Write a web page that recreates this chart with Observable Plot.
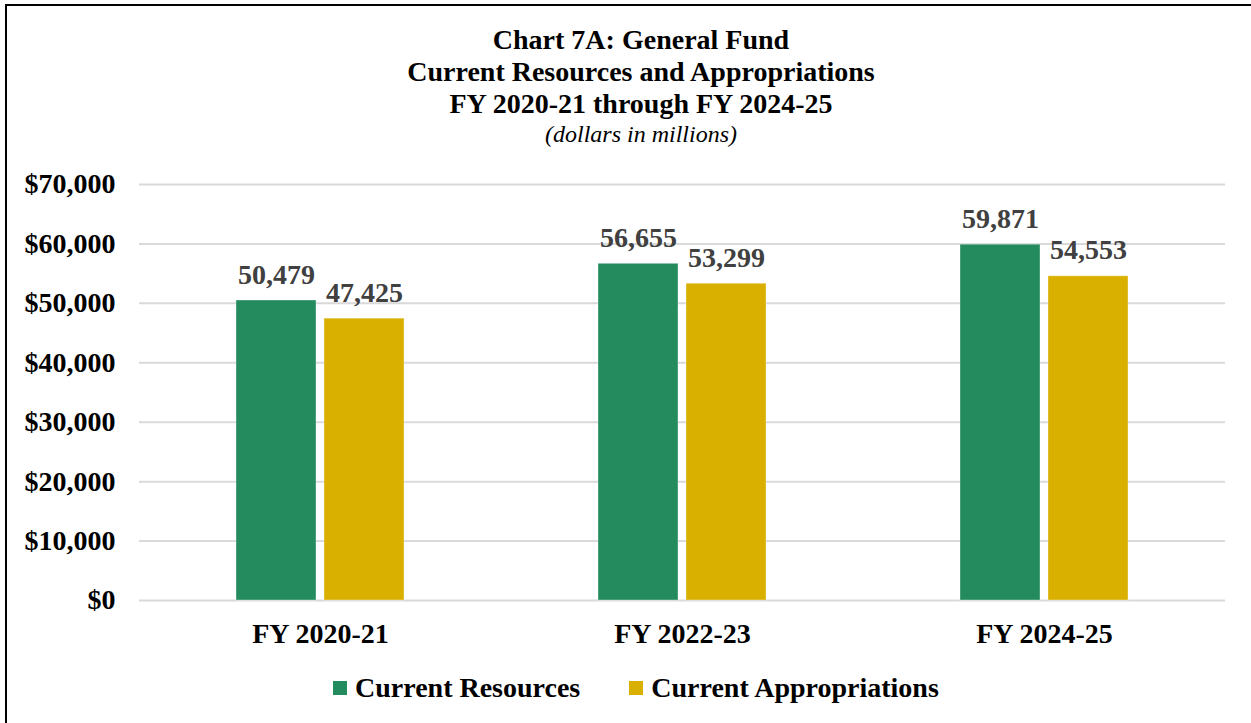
<!DOCTYPE html>
<html>
<head>
<meta charset="utf-8">
<script src="https://cdn.jsdelivr.net/npm/d3@7"></script>
<script src="https://cdn.jsdelivr.net/npm/@observablehq/plot@0.6"></script>
<style>
  html, body { margin: 0; padding: 0; background: #fff; }
  body { width: 1251px; height: 723px; position: relative; overflow: hidden;
         font-family: "Times New Roman", "Liberation Serif", serif; }
  #frame { position: absolute; left: 5px; top: 4px; width: 1300px; height: 800px;
           border-left: 2px solid #000; border-top: 2px solid #000; }
  #title { position: absolute; left: 0; width: 1282px; top: 24px; text-align: center;
           font-weight: bold; font-size: 28px; line-height: 32px; color: #000; white-space: nowrap; }
  #title .sub { font-weight: normal; font-style: italic; font-size: 24px; line-height: 28px; }
  #chart { position: absolute; left: 0; top: 150px; }
  #legend { position: absolute; top: 672px; left: 333px; display: flex; align-items: center;
            font-weight: bold; font-size: 28px; color: #000; white-space: nowrap; }
  #legend .item { display: flex; align-items: center; }
  #legend .sw { width: 14px; height: 14px; margin-right: 8px; }
</style>
</head>
<body>
<div id="frame"></div>
<div id="title">
  <div>Chart 7A: General Fund</div>
  <div>Current Resources and Appropriations</div>
  <div>FY 2020-21 through FY 2024-25</div>
  <div class="sub">(dollars in millions)</div>
</div>
<div id="chart"></div>
<div id="legend"></div>
<script>
const years = ["FY 2020-21", "FY 2022-23", "FY 2024-25"];
const series = ["Current Resources", "Current Appropriations"];
const resources = [50479, 56655, 59871];
const appropriations = [47425, 53299, 54553];
const yTicks = [0, 10000, 20000, 30000, 40000, 50000, 60000, 70000];
const colors = ["#238B5E", "#DAB000"];

const data = [];
years.forEach((yr, i) => {
  data.push({year: yr, series: series[0], value: resources[i]});
  data.push({year: yr, series: series[1], value: appropriations[i]});
});

const fmt = d3.format(",");
const chart = Plot.plot({
  width: 1251,
  height: 510,
  marginTop: 34,
  marginBottom: 60,
  marginLeft: 138,
  marginRight: 26,
  style: {fontFamily: '"Times New Roman", "Liberation Serif", serif', fontWeight: "bold", background: "transparent"},
  fx: {domain: years, padding: 0, label: null},
  x: {domain: series, paddingInner: 0.09, paddingOuter: 1.1, axis: null},
  y: {domain: [0, 70000], label: null},
  color: {domain: series, range: colors},
  marks: [
    Plot.gridY(yTicks, {stroke: "#d9d9d9", strokeOpacity: 1, strokeWidth: 2}),
    Plot.barY(data, {fx: "year", x: "series", y: "value", fill: "series", stroke: "#ffffff", strokeOpacity: 0.35, strokeWidth: 1}),
    Plot.text(data, {fx: "year", x: "series", y: "value", text: d => fmt(d.value),
      lineAnchor: "bottom", dy: -17, fill: "#404040", fontSize: 28, fontWeight: "bold"}),
    Plot.axisY(yTicks, {tickSize: 0, tickPadding: 24, fontSize: 28, fontWeight: "bold", fill: "#000",
      tickFormat: d => "$" + fmt(d), label: null}),
    Plot.axisFx({anchor: "bottom", tickSize: 0, tickPadding: 23, fontSize: 28, fontWeight: "bold", fill: "#000", label: null})
  ]
});
document.getElementById("chart").appendChild(chart);

const legend = document.getElementById("legend");
series.forEach((s, i) => {
  const item = document.createElement("div");
  item.className = "item";
  if (i > 0) item.style.marginLeft = "49px";
  const sw = document.createElement("div");
  sw.className = "sw";
  sw.style.background = colors[i];
  const lab = document.createElement("span");
  lab.textContent = s;
  item.appendChild(sw);
  item.appendChild(lab);
  legend.appendChild(item);
});
</script>
</body>
</html>
